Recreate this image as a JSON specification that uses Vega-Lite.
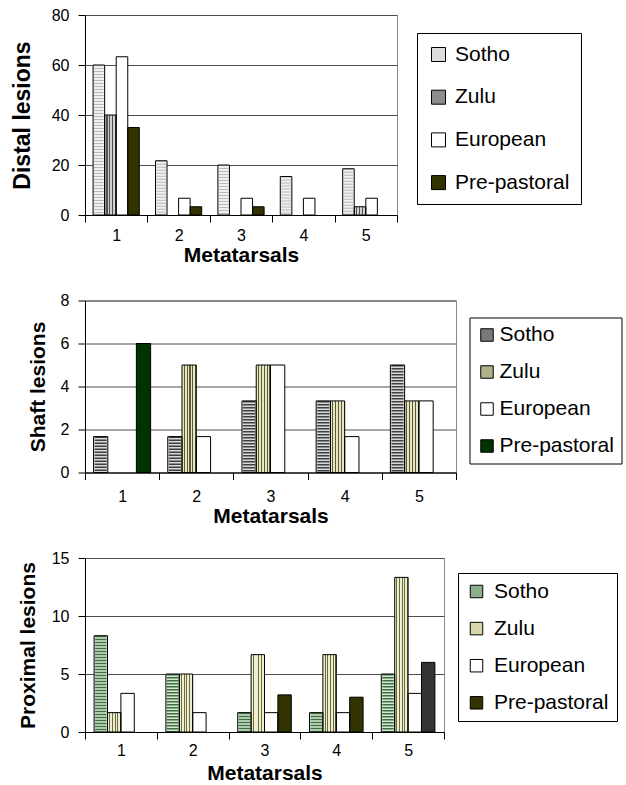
{
  "$schema": "https://vega.github.io/schema/vega-lite/v6.json",
  "padding": {"left": 10, "top": 6, "right": 0, "bottom": 0},
  "bounds": "flush",
  "spacing": 85.5,
  "datasets": {
    "distal": [
      {"Metatarsal": 1, "Group": "Sotho", "Value": 60},
      {"Metatarsal": 1, "Group": "Zulu", "Value": 40},
      {"Metatarsal": 1, "Group": "European", "Value": 63.3},
      {"Metatarsal": 1, "Group": "Pre-pastoral", "Value": 35},
      {"Metatarsal": 2, "Group": "Sotho", "Value": 21.7},
      {"Metatarsal": 2, "Group": "European", "Value": 6.7},
      {"Metatarsal": 2, "Group": "Pre-pastoral", "Value": 3.3},
      {"Metatarsal": 3, "Group": "Sotho", "Value": 20},
      {"Metatarsal": 3, "Group": "European", "Value": 6.7},
      {"Metatarsal": 3, "Group": "Pre-pastoral", "Value": 3.3},
      {"Metatarsal": 4, "Group": "Sotho", "Value": 15.4},
      {"Metatarsal": 4, "Group": "European", "Value": 6.7},
      {"Metatarsal": 5, "Group": "Sotho", "Value": 18.5},
      {"Metatarsal": 5, "Group": "Zulu", "Value": 3.3},
      {"Metatarsal": 5, "Group": "European", "Value": 6.7}
    ],
    "shaft": [
      {"Metatarsal": 1, "Group": "Sotho", "Value": 1.67},
      {"Metatarsal": 1, "Group": "Pre-pastoral", "Value": 6},
      {"Metatarsal": 2, "Group": "Sotho", "Value": 1.67},
      {"Metatarsal": 2, "Group": "Zulu", "Value": 5},
      {"Metatarsal": 2, "Group": "European", "Value": 1.67},
      {"Metatarsal": 3, "Group": "Sotho", "Value": 3.33},
      {"Metatarsal": 3, "Group": "Zulu", "Value": 5},
      {"Metatarsal": 3, "Group": "European", "Value": 5},
      {"Metatarsal": 4, "Group": "Sotho", "Value": 3.33},
      {"Metatarsal": 4, "Group": "Zulu", "Value": 3.33},
      {"Metatarsal": 4, "Group": "European", "Value": 1.67},
      {"Metatarsal": 5, "Group": "Sotho", "Value": 5},
      {"Metatarsal": 5, "Group": "Zulu", "Value": 3.33},
      {"Metatarsal": 5, "Group": "European", "Value": 3.33}
    ],
    "proximal": [
      {"Metatarsal": 1, "Group": "Sotho", "Value": 8.3},
      {"Metatarsal": 1, "Group": "Zulu", "Value": 1.67},
      {"Metatarsal": 1, "Group": "European", "Value": 3.33},
      {"Metatarsal": 2, "Group": "Sotho", "Value": 5},
      {"Metatarsal": 2, "Group": "Zulu", "Value": 5},
      {"Metatarsal": 2, "Group": "European", "Value": 1.67},
      {"Metatarsal": 3, "Group": "Sotho", "Value": 1.67},
      {"Metatarsal": 3, "Group": "Zulu", "Value": 6.67},
      {"Metatarsal": 3, "Group": "European", "Value": 1.67},
      {"Metatarsal": 3, "Group": "Pre-pastoral", "Value": 3.2},
      {"Metatarsal": 4, "Group": "Sotho", "Value": 1.67},
      {"Metatarsal": 4, "Group": "Zulu", "Value": 6.67},
      {"Metatarsal": 4, "Group": "European", "Value": 1.67},
      {"Metatarsal": 4, "Group": "Pre-pastoral", "Value": 3.0},
      {"Metatarsal": 5, "Group": "Sotho", "Value": 5},
      {"Metatarsal": 5, "Group": "Zulu", "Value": 13.33},
      {"Metatarsal": 5, "Group": "European", "Value": 3.33},
      {"Metatarsal": 5, "Group": "Pre-pastoral", "Value": 6}
    ]
  },
  "resolve": {"scale": {"x": "independent", "y": "independent", "xOffset": "independent", "color": "independent", "fill": "independent"}, "legend": {"fill": "independent"}},
  "vconcat": [
    {
      "width": 312, "height": 200,
      "data": {"name": "distal"},
      "encoding": {
        "x": {"field": "Metatarsal", "type": "nominal", "scale": {"paddingInner": 0, "paddingOuter": 0}, "axis": {"title": "Metatarsals", "labelPadding": 5, "titlePadding": 1}},
        "xOffset": {"field": "Group", "type": "nominal", "scale": {"domain": ["Sotho", "Zulu", "European", "Pre-pastoral"], "paddingInner": 0, "paddingOuter": 0.7}},
        "y": {"field": "Value", "type": "quantitative", "scale": {"domain": [0, 80]}, "axis": {"title": "Distal lesions", "values": [0, 20, 40, 60, 80], "titlePadding": 17, "titleFontSize": 23}}
      },
      "layer": [
        {
          "mark": {"type": "bar", "strokeWidth": 0},
          "encoding": {
            "fill": {
              "field": "Group", "type": "nominal",
              "scale": {"domain": ["Sotho", "Zulu", "European", "Pre-pastoral"], "range": ["#dcdcdc", "#8c8c8c", "#ffffff", "#333300"]},
              "legend": {"title": null, "orient": "none", "legendX": 332, "legendY": 18, "padding": 11, "rowPadding": 20.7, "symbolSize": 196, "labelOffset": 6, "labelExpr": "datum.label + '\u00a0'"},
              "condition": [
                {"test": "datum.Group === 'Sotho'", "value": "#f0f0f0"},
                {"test": "datum.Group === 'Zulu'", "value": {"gradient": "linear", "x1": 0, "y1": 0, "x2": 1, "y2": 0, "stops": [
                  {"offset": 0, "color": "#d0d0d0"}, {"offset": 0.15, "color": "#d0d0d0"}, {"offset": 0.15, "color": "#505050"}, {"offset": 0.25, "color": "#505050"},
                  {"offset": 0.25, "color": "#d0d0d0"}, {"offset": 0.4, "color": "#d0d0d0"}, {"offset": 0.4, "color": "#505050"}, {"offset": 0.5, "color": "#505050"},
                  {"offset": 0.5, "color": "#d0d0d0"}, {"offset": 0.65, "color": "#d0d0d0"}, {"offset": 0.65, "color": "#505050"}, {"offset": 0.75, "color": "#505050"},
                  {"offset": 0.75, "color": "#d0d0d0"}, {"offset": 0.9, "color": "#d0d0d0"}, {"offset": 0.9, "color": "#505050"}, {"offset": 1, "color": "#505050"}
                ]}}
              ]
            }
          }
        },
        {
          "transform": [{"filter": "datum.Group === 'Sotho'"}],
          "mark": {"type": "rule", "strokeWidth": 9.5, "strokeDash": [1, 2], "color": "#b8b8b8"},
          "encoding": {"y2": {"datum": 0}}
        },
        {
          "mark": {"type": "bar", "fillOpacity": 0, "stroke": "black", "strokeWidth": 1}
        }
      ]
    },
    {
      "width": 371, "height": 172,
      "data": {"name": "shaft"},
      "encoding": {
        "x": {"field": "Metatarsal", "type": "nominal", "scale": {"paddingInner": 0, "paddingOuter": 0}, "axis": {"title": "Metatarsals", "labelPadding": 9, "titlePadding": 1}},
        "xOffset": {"field": "Group", "type": "nominal", "scale": {"domain": ["Sotho", "Zulu", "European", "Pre-pastoral"], "paddingInner": 0, "paddingOuter": 0.6}},
        "y": {"field": "Value", "type": "quantitative", "scale": {"domain": [0, 8]}, "axis": {"title": "Shaft lesions", "values": [0, 2, 4, 6, 8], "titlePadding": 12}}
      },
      "layer": [
        {
          "mark": {"type": "bar", "strokeWidth": 0},
          "encoding": {
            "fill": {
              "field": "Group", "type": "nominal",
              "scale": {"domain": ["Sotho", "Zulu", "European", "Pre-pastoral"], "range": ["#7a7a7a", "#b0b08a", "#ffffff", "#003300"]},
              "legend": {"title": null, "orient": "none", "legendX": 384.5, "legendY": 17, "padding": 7, "rowPadding": 15, "symbolSize": 156, "labelOffset": 2},
              "condition": [
                {"test": "datum.Group === 'Sotho'", "value": "#d8d8d8"},
                {"test": "datum.Group === 'Zulu'", "value": {"gradient": "linear", "x1": 0, "y1": 0, "x2": 1, "y2": 0, "stops": [
                  {"offset": 0, "color": "#e6e6c4"}, {"offset": 0.12, "color": "#e6e6c4"}, {"offset": 0.12, "color": "#5c5c30"}, {"offset": 0.2, "color": "#5c5c30"},
                  {"offset": 0.2, "color": "#e6e6c4"}, {"offset": 0.32, "color": "#e6e6c4"}, {"offset": 0.32, "color": "#5c5c30"}, {"offset": 0.4, "color": "#5c5c30"},
                  {"offset": 0.4, "color": "#e6e6c4"}, {"offset": 0.52, "color": "#e6e6c4"}, {"offset": 0.52, "color": "#5c5c30"}, {"offset": 0.6, "color": "#5c5c30"},
                  {"offset": 0.6, "color": "#e6e6c4"}, {"offset": 0.72, "color": "#e6e6c4"}, {"offset": 0.72, "color": "#5c5c30"}, {"offset": 0.8, "color": "#5c5c30"},
                  {"offset": 0.8, "color": "#e6e6c4"}, {"offset": 0.92, "color": "#e6e6c4"}, {"offset": 0.92, "color": "#5c5c30"}, {"offset": 1, "color": "#5c5c30"}
                ]}}
              ]
            }
          }
        },
        {
          "transform": [{"filter": "datum.Group === 'Sotho'"}],
          "mark": {"type": "rule", "strokeWidth": 12, "strokeDash": [1.5, 1.5], "color": "#404040"},
          "encoding": {"y2": {"datum": 0}}
        },
        {
          "mark": {"type": "bar", "fillOpacity": 0, "stroke": "black", "strokeWidth": 1}
        }
      ]
    },
    {
      "width": 359, "height": 174,
      "data": {"name": "proximal"},
      "encoding": {
        "x": {"field": "Metatarsal", "type": "nominal", "scale": {"paddingInner": 0, "paddingOuter": 0}, "axis": {"title": "Metatarsals", "labelPadding": 3, "titlePadding": 4}},
        "xOffset": {"field": "Group", "type": "nominal", "scale": {"domain": ["Sotho", "Zulu", "European", "Pre-pastoral"], "paddingInner": 0, "paddingOuter": 0.68}},
        "y": {"field": "Value", "type": "quantitative", "scale": {"domain": [0, 15]}, "axis": {"title": "Proximal lesions", "values": [0, 5, 10, 15], "titlePadding": 13}}
      },
      "layer": [
        {
          "mark": {"type": "bar", "strokeWidth": 0},
          "encoding": {
            "fill": {
              "field": "Group", "type": "nominal",
              "scale": {"domain": ["Sotho", "Zulu", "European", "Pre-pastoral"], "range": ["#8ab08a", "#d6d6aa", "#ffffff", "#333300"]},
              "legend": {"title": null, "orient": "none", "legendX": 373, "legendY": 15, "padding": 8, "rowPadding": 15.1, "symbolSize": 156, "labelOffset": 7},
              "condition": [
                {"test": "datum.Group === 'Sotho'", "value": "#d4e8d4"},
                {"test": "datum.Group === 'Pre-pastoral' && datum.Metatarsal === 5", "value": "#333333"},
                {"test": "datum.Group === 'Zulu'", "value": {"gradient": "linear", "x1": 0, "y1": 0, "x2": 1, "y2": 0, "stops": [
                  {"offset": 0, "color": "#eeeed0"}, {"offset": 0.13, "color": "#eeeed0"}, {"offset": 0.13, "color": "#6a6a3a"}, {"offset": 0.2, "color": "#6a6a3a"},
                  {"offset": 0.2, "color": "#eeeed0"}, {"offset": 0.33, "color": "#eeeed0"}, {"offset": 0.33, "color": "#6a6a3a"}, {"offset": 0.4, "color": "#6a6a3a"},
                  {"offset": 0.4, "color": "#eeeed0"}, {"offset": 0.53, "color": "#eeeed0"}, {"offset": 0.53, "color": "#6a6a3a"}, {"offset": 0.6, "color": "#6a6a3a"},
                  {"offset": 0.6, "color": "#eeeed0"}, {"offset": 0.73, "color": "#eeeed0"}, {"offset": 0.73, "color": "#6a6a3a"}, {"offset": 0.8, "color": "#6a6a3a"},
                  {"offset": 0.8, "color": "#eeeed0"}, {"offset": 0.93, "color": "#eeeed0"}, {"offset": 0.93, "color": "#6a6a3a"}, {"offset": 1, "color": "#6a6a3a"}
                ]}}
              ]
            }
          }
        },
        {
          "transform": [{"filter": "datum.Group === 'Sotho'"}],
          "mark": {"type": "rule", "strokeWidth": 11.4, "strokeDash": [1.5, 1.5], "color": "#3f6f3f"},
          "encoding": {"y2": {"datum": 0}}
        },
        {
          "mark": {"type": "bar", "fillOpacity": 0, "stroke": "black", "strokeWidth": 1}
        }
      ]
    }
  ],
  "config": {
    "font": "Liberation Sans",
    "background": "white",
    "view": {"stroke": "#8c8c8c", "strokeWidth": 1},
    "axis": {"domainColor": "black", "tickColor": "black", "labelColor": "black", "titleColor": "black", "labelFont": "Liberation Sans", "titleFont": "Liberation Sans", "labelFontSize": 16, "titleFontSize": 21, "titleFontWeight": "bold"},
    "axisX": {"tickBand": "extent", "tickSize": 7, "labelAngle": 0, "grid": false},
    "axisY": {"tickSize": 7, "labelPadding": 9, "grid": true, "gridColor": "#4d4d4d", "gridOpacity": 1},
    "legend": {"labelFont": "Liberation Sans", "labelFontSize": 21, "labelColor": "black", "symbolType": "square", "symbolStrokeColor": "black", "symbolStrokeWidth": 1, "strokeColor": "black", "fillColor": "white", "symbolOpacity": 1}
  }
}
